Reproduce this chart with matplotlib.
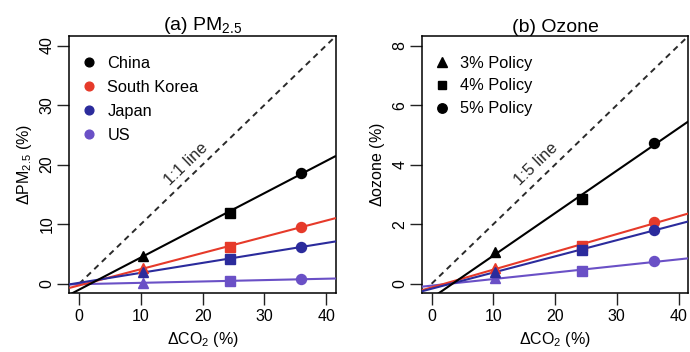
import numpy as np
import matplotlib
matplotlib.use("Agg")
import matplotlib.pyplot as plt
from matplotlib.lines import Line2D

plt.rcParams['font.family'] = ['Liberation Sans', 'DejaVu Sans']
plt.rcParams['mathtext.fontset'] = 'custom'
plt.rcParams['mathtext.rm'] = 'Liberation Sans'
plt.rcParams['mathtext.it'] = 'Liberation Sans:italic'
plt.rcParams['mathtext.bf'] = 'Liberation Sans:bold'

# CO2 reduction achieved by each policy (%)
co2_change = [10.3, 24.4, 36.0]
policies = ["3% Policy", "4% Policy", "5% Policy"]
policy_markers = ["^", "s", "o"]

regions = ["China", "South Korea", "Japan", "US"]
region_colors = ["#000000", "#e63a2a", "#2b2b9c", "#6a50c6"]

# PM2.5 reduction per region (%)
pm25_china = [4.7, 11.9, 18.6]
pm25_korea = [2.6, 6.2, 9.6]
pm25_japan = [1.9, 4.2, 6.2]
pm25_us = [0.2, 0.4, 0.8]

# Ozone reduction per region (%)
ozone_china = [1.05, 2.86, 4.73]
ozone_korea = [0.52, 1.27, 2.06]
ozone_japan = [0.41, 1.12, 1.81]
ozone_us = [0.18, 0.44, 0.75]

pm25 = [pm25_china, pm25_korea, pm25_japan, pm25_us]
ozone = [ozone_china, ozone_korea, ozone_japan, ozone_us]

fig = plt.figure(figsize=(6.9, 3.52), dpi=100)
ax_a = fig.add_axes([0.1004, 0.1668, 0.3865, 0.731])
ax_b = fig.add_axes([0.6112, 0.1668, 0.3865, 0.731])

xlim = (-1.6, 41.6)
draw_order = [3, 1, 2, 0]


def panel(ax, values, ylim, yticks, ref_slope, ref_label, label_xy, title, ylabel):
    ax.set_xlim(*xlim)
    ax.set_ylim(*ylim)
    x = np.array(co2_change)
    xs = np.array(xlim)
    # reference line
    ax.plot([0, xlim[1]], [0, xlim[1] * ref_slope], ls=(0, (3.0, 2.4)),
            color="#2a2a2a", lw=1.4, zorder=2)
    for i in draw_order:
        y = np.array(values[i])
        m, b = np.polyfit(x, y, 1)
        ax.plot(xs, m * xs + b, color=region_colors[i], lw=1.5, zorder=3,
                solid_capstyle='butt')
        for xi, yi, mk in zip(x, y, policy_markers):
            ms = 7.5 if mk == "^" else (6.8 if mk == "s" else 7.2)
            ax.plot([xi], [yi], marker=mk, ms=ms, color=region_colors[i],
                    mec=region_colors[i], ls="none", zorder=4)
    ang = np.degrees(np.arctan(ref_slope))
    rot = ax.transData.transform_angles(np.array([ang]),
                                        np.array([label_xy]))[0]
    ax.text(label_xy[0], label_xy[1], ref_label, rotation=rot,
            rotation_mode='anchor', ha='center', va='center', fontsize=12,
            color="#2a2a2a")
    ax.set_xticks([0, 10, 20, 30, 40])
    ax.set_yticks(yticks)
    ax.tick_params(axis='both', direction='out', length=8.5, width=1.0,
                   labelsize=11.5, color="#222222")
    ax.tick_params(axis='x', pad=3)
    ax.tick_params(axis='y', pad=2)
    for lab in ax.get_yticklabels():
        lab.set_rotation(90)
        lab.set_va('center')
    for sp in ax.spines.values():
        sp.set_linewidth(1.1)
    ax.set_title(title, fontsize=14, pad=1.0)
    ax.set_xlabel(r"$\Delta$CO$_\mathrm{2}$ (%)", fontsize=11.5, labelpad=4)
    ax.set_ylabel(ylabel, fontsize=11.5, labelpad=4)


panel(ax_a, pm25, (-1.6, 41.6), [0, 10, 20, 30, 40], 1.0, "1:1 line",
      (17.3, 20.1), r"(a) PM$_\mathrm{2.5}$", r"$\Delta$PM$_\mathrm{2.5}$ (%)")
panel(ax_b, ozone, (-0.32, 8.32), [0, 2, 4, 6, 8], 0.2, "1:5 line",
      (17.0, 4.0), "(b) Ozone", r"$\Delta$ozone (%)")

region_handles = [Line2D([], [], marker="o", ls="none", color=c, ms=6.3)
                  for c in region_colors]
ax_a.legend(region_handles, regions, loc="upper left",
            bbox_to_anchor=(0.045, 0.924), frameon=False, fontsize=11.8,
            handlelength=1.0, handletextpad=0.6, labelspacing=0.55,
            borderpad=0, borderaxespad=0)

policy_handles = [Line2D([], [], marker=m, ls="none", color="black",
                         ms=6.8 if m != "s" else 6.0) for m in policy_markers]
ax_b.legend(policy_handles, policies, loc="upper left",
            bbox_to_anchor=(0.045, 0.924), frameon=False, fontsize=11.8,
            handlelength=1.0, handletextpad=0.6, labelspacing=0.48,
            borderpad=0, borderaxespad=0)

fig.savefig("out.png", dpi=100)
